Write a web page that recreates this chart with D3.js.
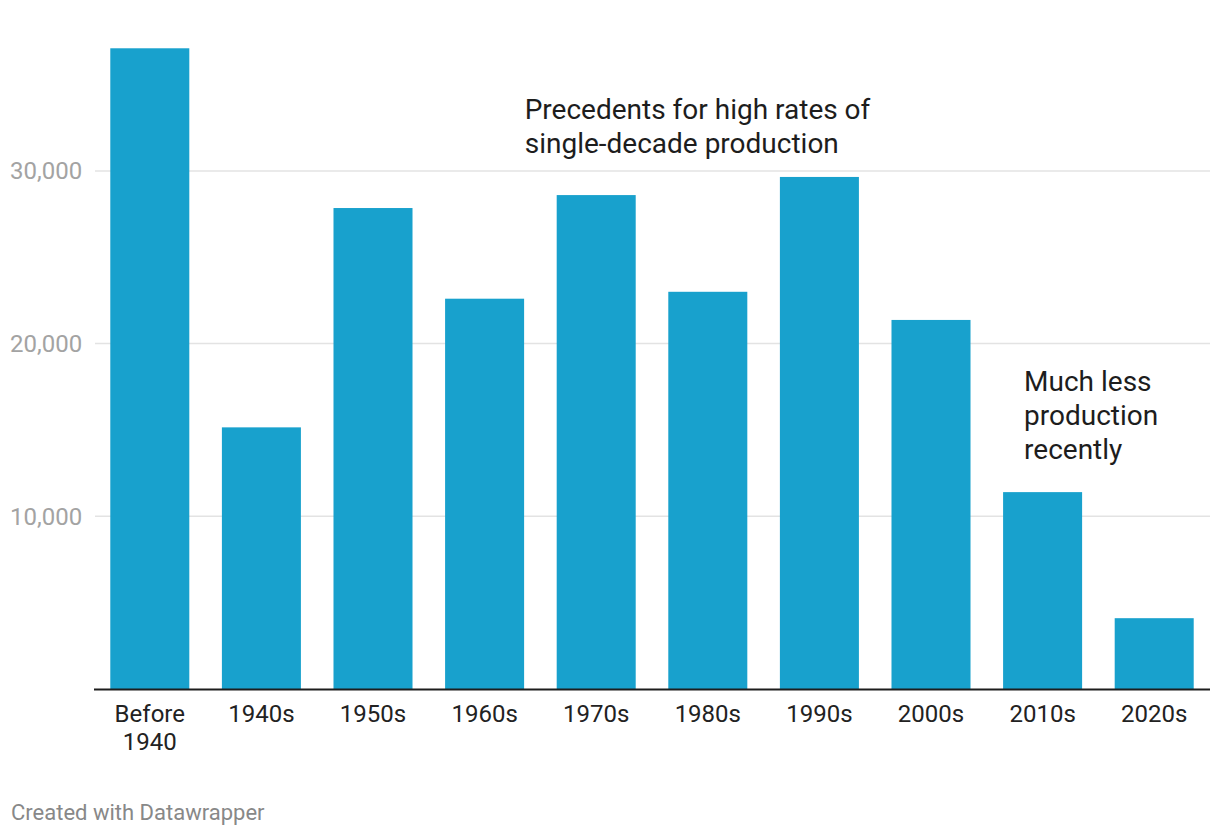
<!DOCTYPE html>
<html><head><meta charset="utf-8">
<script src="https://cdn.jsdelivr.net/npm/d3@7"></script>
<style>body{margin:0;background:#fff;font-family:Roboto,sans-serif}</style>
</head><body>
<svg id="c" width="1220" height="838"></svg>
<script>
const categories = ["Before\n1940","1940s","1950s","1960s","1970s","1980s","1990s","2000s","2010s","2020s"];
const values = [37100,15150,27850,22600,28600,23000,29650,21370,11400,4100];
const yTicks = [10000,20000,30000];
const annotations = [
  {lines:["Precedents for high rates of","single-decade production"], cat:"1970s", dx:-32, val:33000},
  {lines:["Much less","production","recently"], cat:"2010s", dx:21, val:17250}
];

const svg = d3.select("#c");
const x = d3.scaleBand().domain(categories).range([94,1210]).paddingInner(0.292).paddingOuter(0.146);
const y = d3.scaleLinear().domain([0,40000]).range([689, 689-4*172.7]);

// gridlines
svg.append("g").selectAll("line").data(yTicks).join("line")
  .attr("x1",95).attr("x2",1210)
  .attr("y1",d=>y(d)).attr("y2",d=>y(d))
  .attr("stroke","#e3e3e3").attr("stroke-width",1.5);
svg.append("g").selectAll("text").data(yTicks).join("text")
  .attr("x",10).attr("y",d=>y(d)).attr("dy","0.35em")
  .attr("fill","#a3a3a3").attr("font-size",24)
  .text(d=>d3.format(",")(d));

// bars
svg.append("g").selectAll("rect").data(values).join("rect")
  .attr("x",(d,i)=>x(categories[i])).attr("width",x.bandwidth())
  .attr("y",d=>y(d)).attr("height",d=>y(0)-y(d))
  .attr("fill","#18a1cd");

// axis line
svg.append("line").attr("x1",94).attr("x2",1210).attr("y1",y(0)+0.5).attr("y2",y(0)+0.5)
  .attr("stroke","#1d1d1d").attr("stroke-width",2);

// x labels
const xl = svg.append("g").selectAll("text").data(categories).join("text")
  .attr("x",d=>x(d)+x.bandwidth()/2).attr("y",722)
  .attr("text-anchor","middle").attr("fill","#222").attr("font-size",24);
xl.each(function(d){
  const t=d3.select(this);
  d.split("\n").forEach((s,i)=>t.append("tspan").attr("x",x(d)+x.bandwidth()/2).attr("dy",i?28:0).text(s));
});

// annotations
annotations.forEach(a=>{
  const t = svg.append("text").attr("fill","#1d1d1d").attr("font-size",28);
  const x0 = x(a.cat)+a.dx;
  a.lines.forEach((s,i)=>t.append("tspan").attr("x",x0).attr("y",y(a.val)+i*34).text(s));
});

svg.append("text").attr("x",11).attr("y",820).attr("fill","#888").attr("font-size",22)
  .text("Created with Datawrapper");
</script>
</body></html>
